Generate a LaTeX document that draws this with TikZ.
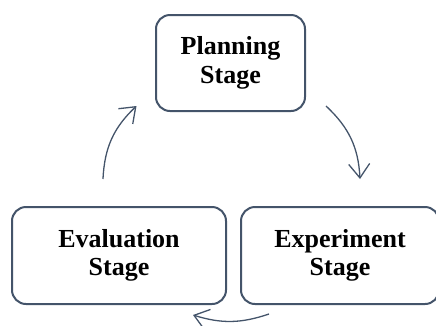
\documentclass[tikz,border=0pt]{standalone}
\usepackage{fontspec}
\setmainfont{Liberation Serif}
\usetikzlibrary{arrows.meta}
\definecolor{slate}{HTML}{44546A}
\begin{document}
\begin{tikzpicture}[x=1pt,y=-1pt,
  stagebox/.style={draw=slate,line width=2pt,rounded corners=14pt,fill=white,
    align=center,font=\fontsize{26}{28.5}\selectfont\bfseries,inner sep=0pt},
  cyc/.style={draw=slate,line width=1.3pt,-{Straight Barb[length=14pt,width=21pt,line width=1.3pt]}}]
\useasboundingbox (0,0) rectangle (436,325);
\node[stagebox,minimum width=149pt,minimum height=96pt] (P) at (230.5,63) {Planning\\Stage};
\node[stagebox,minimum width=214pt,minimum height=97pt] (E) at (119,255.5) {Evaluation\\Stage};
\node[stagebox,minimum width=198pt,minimum height=97pt] (X) at (340,255.5) {Experiment\\Stage};
\draw[cyc] ([xshift=20pt,yshift=6pt]P.south east) to[bend left=22] ([xshift=20pt,yshift=27pt]X.north);
\draw[cyc] ([xshift=29pt,yshift=-9pt]X.south west) to[bend left=18] ([xshift=-34pt,yshift=-10pt]E.south east);
\draw[cyc] ([xshift=-16pt,yshift=27pt]E.north) to[bend left=22] ([xshift=-94pt,yshift=6pt]P.south);
\end{tikzpicture}
\end{document}
